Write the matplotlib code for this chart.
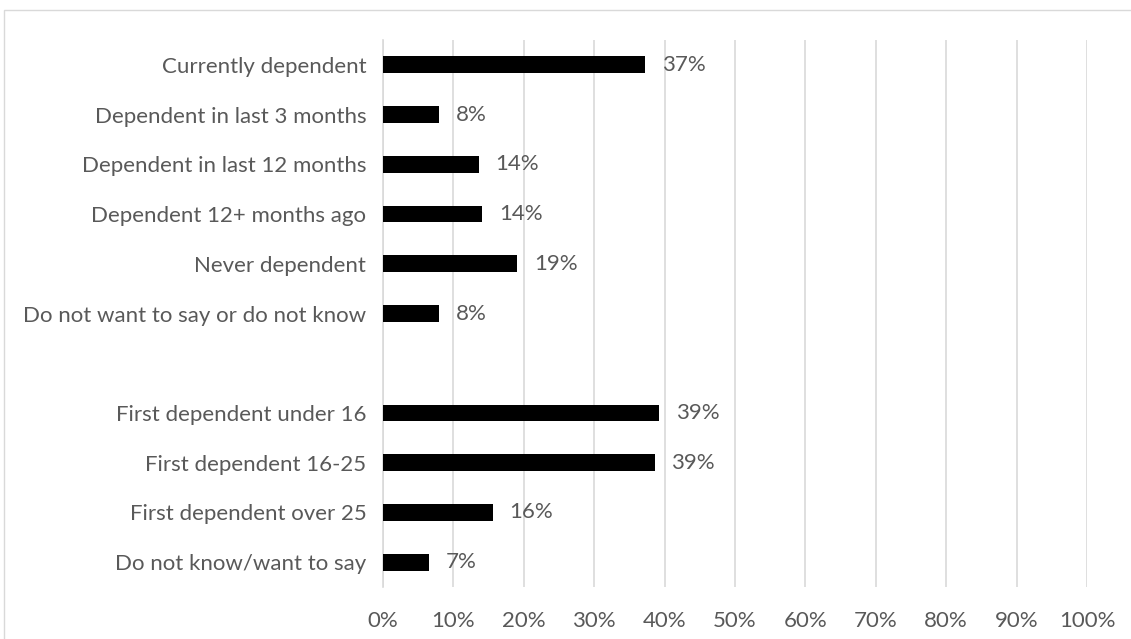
import matplotlib.pyplot as plt
import numpy as np

categories = [
    "Currently dependent",
    "Dependent in last 3 months",
    "Dependent in last 12 months",
    "Dependent 12+ months ago",
    "Never dependent",
    "Do not want to say or do not know",
    "First dependent under 16",
    "First dependent 16-25",
    "First dependent over 25",
    "Do not know/want to say",
]
values = [37.2, 8.0, 13.6, 14.1, 19.1, 8.0, 39.2, 38.6, 15.6, 6.5]
labels = ["37%", "8%", "14%", "14%", "19%", "8%", "39%", "39%", "16%", "7%"]
ticks = list(range(0, 101, 10))

plt.rcParams['font.family'] = ['Lato', 'DejaVu Sans']
grey = "#595959"
fs = 16

fig = plt.figure(figsize=(11.31, 6.39), dpi=100)
ax = fig.add_axes([383 / 1131, 1 - 587 / 639, (1087 - 383) / 1131, (587 - 40) / 639])

# two groups with an empty slot between them
ypos = np.array([i if i < 6 else i + 1 for i in range(len(categories))])

ax.barh(ypos, values, height=0.34, color="black", zorder=3)
for y, v, lab in zip(ypos, values, labels):
    ax.annotate(lab, (v, y), xytext=(12, 0), textcoords="offset points",
                va="center", ha="left", fontsize=fs, color=grey)

ax.set_xlim(0, 100)
ax.set_ylim(10.5, -0.5)
ax.set_xticks(ticks)
ax.set_xticklabels([f"{t}%" for t in ticks], fontsize=fs, color=grey)
ax.set_yticks(ypos)
ax.set_yticklabels(categories, fontsize=fs, color=grey)
ax.tick_params(axis="x", length=0, pad=17)
ax.tick_params(axis="y", length=0, pad=12)
ax.grid(axis="x", color="#d9d9d9", linewidth=1.2, zorder=0)
for s in ["top", "right", "bottom"]:
    ax.spines[s].set_visible(False)
ax.spines["left"].set_color("#d9d9d9")
ax.spines["left"].set_linewidth(1.2)

# outer chart border (cut off at right and bottom edges)
fig.patches.append(plt.Rectangle((4 / 1131, -10 / 639), 1140 / 1131, 639 / 639,
                                 transform=fig.transFigure, fill=False,
                                 edgecolor="#d9d9d9", linewidth=1))

fig.savefig("out.png", dpi=100)
